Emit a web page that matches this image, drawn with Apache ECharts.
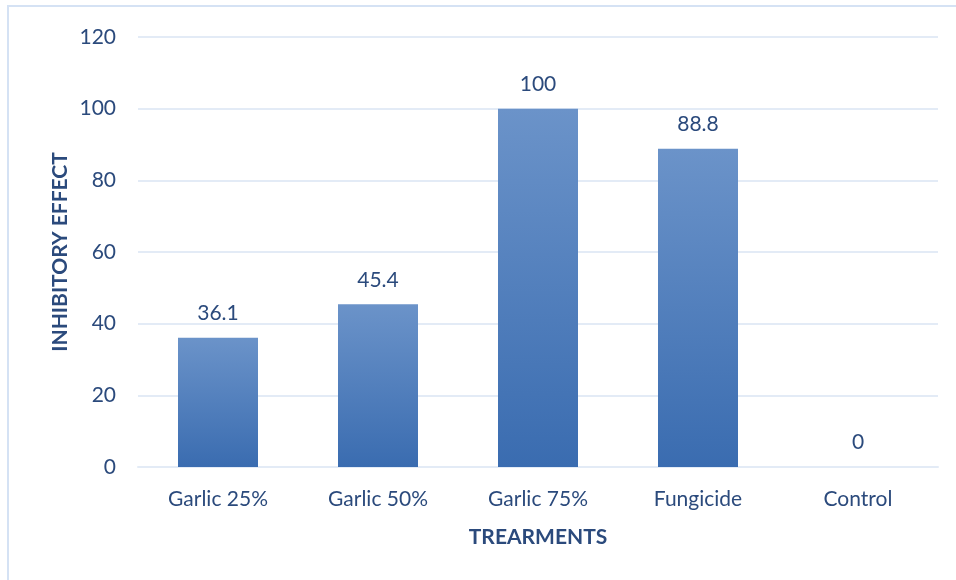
<!DOCTYPE html>
<html>
<head>
<meta charset="utf-8">
<script src="https://cdn.jsdelivr.net/npm/echarts@6/dist/echarts.min.js"></script>
<style>
  html, body { margin: 0; padding: 0; background: #ffffff; }
  #chart { width: 956px; height: 580px; }
</style>
</head>
<body>
<div id="chart"></div>
<script>
// Inhibitory effect of each treatment
const categories = ['Garlic 25%', 'Garlic 50%', 'Garlic 75%', 'Fungicide', 'Control'];
const inhibition = [36.1, 45.4, 100, 88.8, 0];
const yTicks = [0, 20, 40, 60, 80, 100, 120];
const xTitle = 'TREARMENTS';
const yTitle = 'INHIBITORY EFFECT';

const textColor = '#2B4A7C';
const fontFamily = 'Lato, "Open Sans", sans-serif';

const chart = echarts.init(document.getElementById('chart'), null, { renderer: 'canvas' });

chart.setOption({
  animation: false,
  backgroundColor: '#ffffff',
  graphic: [
    {
      type: 'rect',
      shape: { x: 8, y: 6, width: 1000, height: 600 },
      style: { fill: 'none', stroke: '#D5E2F4', lineWidth: 2 },
      silent: true
    },
    {
      // vertical axis title, set beside the tick labels
      type: 'text',
      x: 60,
      y: 252,
      rotation: Math.PI / 2,
      style: {
        text: yTitle,
        fill: textColor,
        font: 'bold 21px ' + fontFamily,
        align: 'center',
        verticalAlign: 'middle'
      },
      silent: true
    }
  ],
  grid: { left: 138, right: 18, top: 37, bottom: 113 },
  xAxis: {
    type: 'category',
    data: categories,
    name: xTitle,
    nameLocation: 'middle',
    nameGap: 60,
    nameTextStyle: { color: textColor, fontSize: 21, fontWeight: 'bold', fontFamily },
    axisLine: { show: true, lineStyle: { color: '#E3EBF6', width: 2 } },
    axisTick: { show: false },
    axisLabel: { color: textColor, fontSize: 21, fontFamily, margin: 22 }
  },
  yAxis: {
    type: 'value',
    min: yTicks[0],
    max: yTicks[yTicks.length - 1],
    interval: yTicks[1] - yTicks[0],
    axisLine: { show: false },
    axisTick: { show: false },
    axisLabel: { color: textColor, fontSize: 21, fontFamily, margin: 22 },
    splitLine: { lineStyle: { color: '#E3EBF6', width: 2 } }
  },
  series: [{
    type: 'bar',
    data: inhibition,
    barWidth: '50%',
    itemStyle: {
      color: new echarts.graphic.LinearGradient(0, 0, 0, 1, [
        { offset: 0, color: '#6B93C9' },
        { offset: 1, color: '#3A6CB0' }
      ])
    },
    label: {
      show: true,
      position: 'top',
      distance: 14,
      color: textColor,
      fontSize: 21,
      fontFamily
    }
  }]
});
</script>
</body>
</html>
